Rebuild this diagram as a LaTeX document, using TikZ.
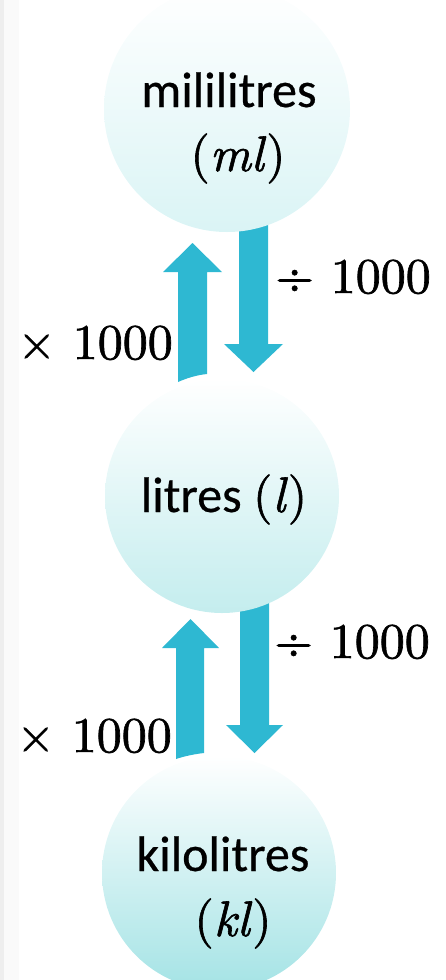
\documentclass[tikz,border=0pt]{standalone}
\usepackage{fontspec}
\setmainfont{Carlito}[FakeBold=0.5]
\newfontfamily\mfnt{lmroman10}[Extension=.otf, UprightFont=*-regular, ItalicFont=*-italic, FakeBold=1.2]
\newcommand{\mth}[1]{{\mfnt #1}}
\definecolor{arrowc}{RGB}{46,184,210}
\definecolor{stripA}{RGB}{238,238,238}
\definecolor{stripB}{RGB}{250,250,250}
\definecolor{ballA}{RGB}{218,244,245}
\definecolor{ballB}{RGB}{196,237,238}
\definecolor{ballC}{RGB}{164,227,229}
\tikzset{
  ball/.style={circle, minimum size=#1, inner sep=0pt, top color=white},
  blockarrow/.style={fill=arrowc, draw=none},
  lbl/.style={anchor=base, inner sep=0pt, font=\fontsize{50}{60}\selectfont},
}
\begin{document}
\begin{tikzpicture}[x=1pt,y=-1pt]
\useasboundingbox (0,0) rectangle (445,980);
\fill[stripB] (0,0) rectangle (19,980);
\fill[stripA] (0,0) rectangle (4,980);
% down arrows (behind circles)
\fill[blockarrow] (239,215) -- (268,215) -- (268,344) -- (283,344) -- (253.5,372) -- (224,344) -- (239,344) -- cycle;
\fill[blockarrow] (240,600) -- (269,600) -- (269,725) -- (283,725) -- (254.5,753) -- (226,725) -- (240,725) -- cycle;
% circles
\node[ball=246pt, bottom color=ballA] (c1) at (227,109) {};
\node[ball=234pt, bottom color=ballB] (c2) at (222,496) {};
\node[ball=234pt, bottom color=ballC] (c3) at (219,873) {};
% up arrows
\fill[blockarrow] (178,382) -- (178,272) -- (163,272) -- (192.5,243) -- (222,272) -- (207,272) -- (207,374) .. controls (197,375) and (187,378) .. (178,382) -- cycle;
\fill[blockarrow] (176,759) -- (176,648) -- (162,648) -- (190.5,619) -- (219,648) -- (204,648) -- (204,753) .. controls (195,754) and (185,756) .. (176,759) -- cycle;
% texts
\node[lbl] (t1) at (229,107) {mililitres};
\node[lbl] (t1b) at (238,171) {\mth{(\textit{ml})}};
\node[lbl] (t2) at (224,512) {litres \mth{(\textit{l})}};
\node[lbl] (t3) at (223,871) {kilolitres};
\node[lbl] (t3b) at (233,936) {\mth{(\textit{kl})}};
\node[lbl] (d1) at (353,293) {\mth{÷ 1000}};
\node[lbl] (m1) at (95,359) {\mth{× 1000}};
\node[lbl] (d2) at (352,658) {\mth{÷ 1000}};
\node[lbl] (m2) at (94,752) {\mth{× 1000}};
\end{tikzpicture}
\end{document}
